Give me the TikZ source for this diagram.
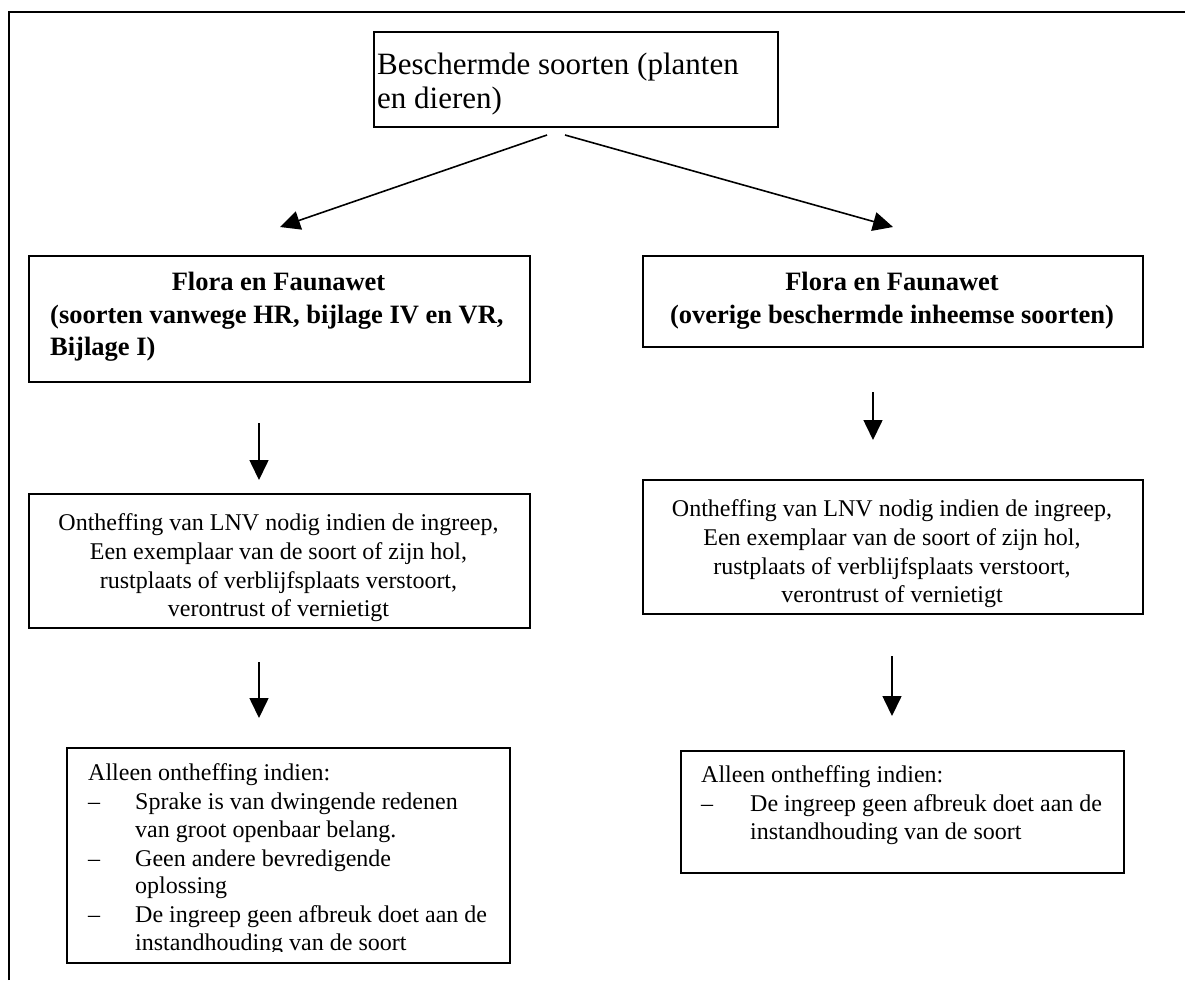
\documentclass[tikz,border=0pt]{standalone}
\usepackage{fontspec}
\setmainfont{Liberation Serif}
\usetikzlibrary{arrows.meta}
\begin{document}
\begin{tikzpicture}[x=1pt,y=-1pt,
  box/.style={draw, line width=2.1pt, inner sep=0pt, anchor=north west},
  frame/.style={line width=2.6pt},
  conn/.style={line width=1.6pt, -{Triangle[length=20pt,width=19pt]}},
  txt/.style={inner sep=0pt, anchor=base, font=\fontsize{24}{28.7}\selectfont},
  txtl/.style={txt, anchor=base west},
  bold/.style={inner sep=0pt, anchor=base, font=\fontsize{26.5}{32}\selectfont\bfseries},
  boldl/.style={bold, anchor=base west},
  toptxt/.style={inner sep=0pt, anchor=base west, font=\fontsize{31}{34}\selectfont}]
\useasboundingbox (0,0) rectangle (1185,980);
% outer frame (only top and left visible)
\coordinate (fbl) at (9,980);
\coordinate (ftl) at (9,12);
\coordinate (ftr) at (1185,12);
\draw[frame] (fbl) -- (ftl) -- (ftr);

% top box
\node[box, minimum width=404pt, minimum height=95pt] (top) at (373,31) {};
\node[toptxt] (top1) at (377,74) {Beschermde soorten (planten};
\node[toptxt] (top2) at (377,108) {en dieren)};

% bold boxes
\node[box, minimum width=501pt, minimum height=126pt] (lb) at (28,255) {};
\node[bold] (lb1) at (278.5,290) {Flora en Faunawet};
\node[boldl] (lb2) at (50,323) {(soorten vanwege HR, bijlage IV en VR,};
\node[boldl] (lb3) at (50,355) {Bijlage I)};

\node[box, minimum width=500pt, minimum height=91pt] (rb) at (642,255) {};
\node[bold] (rb1) at (892,290) {Flora en Faunawet};
\node[bold] (rb2) at (892,323) {(overige beschermde inheemse soorten)};

% middle boxes
\node[box, minimum width=501pt, minimum height=134pt] (lm) at (28,493) {};
\node[txt] (lm1) at (278.5,530) {Ontheffing van LNV nodig indien de ingreep,};
\node[txt] (lm2) at (278.5,559) {Een exemplaar van de soort of zijn hol,};
\node[txt] (lm3) at (278.5,588) {rustplaats of verblijfsplaats verstoort,};
\node[txt] (lm4) at (278.5,616) {verontrust of vernietigt};

\node[box, minimum width=500pt, minimum height=134pt] (rm) at (642,479) {};
\node[txt] (rm1) at (892,516) {Ontheffing van LNV nodig indien de ingreep,};
\node[txt] (rm2) at (892,545) {Een exemplaar van de soort of zijn hol,};
\node[txt] (rm3) at (892,574) {rustplaats of verblijfsplaats verstoort,};
\node[txt] (rm4) at (892,602) {verontrust of vernietigt};

% bottom boxes
\node[box, minimum width=443pt, minimum height=215pt] (lo) at (66,747) {};
\begin{scope}
\clip (66,747) rectangle (509,951);
\node[txtl] (lo0) at (88,780) {Alleen ontheffing indien:};
\node[txtl] (lod1) at (88,809) {–};
\node[txtl] (lo1) at (135,809) {Sprake is van dwingende redenen};
\node[txtl] (lo2) at (135,837) {van groot openbaar belang.};
\node[txtl] (lod2) at (88,866) {–};
\node[txtl] (lo3) at (135,866) {Geen andere bevredigende};
\node[txtl] (lo4) at (135,893) {oplossing};
\node[txtl] (lod3) at (88,922) {–};
\node[txtl] (lo5) at (135,922) {De ingreep geen afbreuk doet aan de};
\node[txtl] (lo6) at (135,950) {instandhouding van de soort};
\end{scope}

\node[box, minimum width=443pt, minimum height=122pt] (ro) at (680,750) {};
\node[txtl] (ro0) at (701,782) {Alleen ontheffing indien:};
\node[txtl] (rod1) at (701,811) {–};
\node[txtl] (ro1) at (750,811) {De ingreep geen afbreuk doet aan de};
\node[txtl] (ro2) at (750,839) {instandhouding van de soort};

% connectors
\coordinate (dls) at (547,135);
\coordinate (dle) at (280,227);
\coordinate (drs) at (565,135);
\coordinate (dre) at (893,227);
\draw[conn] (dls) -- (dle);
\draw[conn] (drs) -- (dre);

\coordinate (a1s) at (259,423);
\coordinate (a1e) at (259,480);
\coordinate (a2s) at (259,662);
\coordinate (a2e) at (259,718);
\draw[conn] (a1s) -- (a1e);
\draw[conn] (a2s) -- (a2e);

\coordinate (a3s) at (873,392);
\coordinate (a3e) at (873,440);
\coordinate (a4s) at (892,656);
\coordinate (a4e) at (892,716);
\draw[conn] (a3s) -- (a3e);
\draw[conn] (a4s) -- (a4e);
\end{tikzpicture}
\end{document}
